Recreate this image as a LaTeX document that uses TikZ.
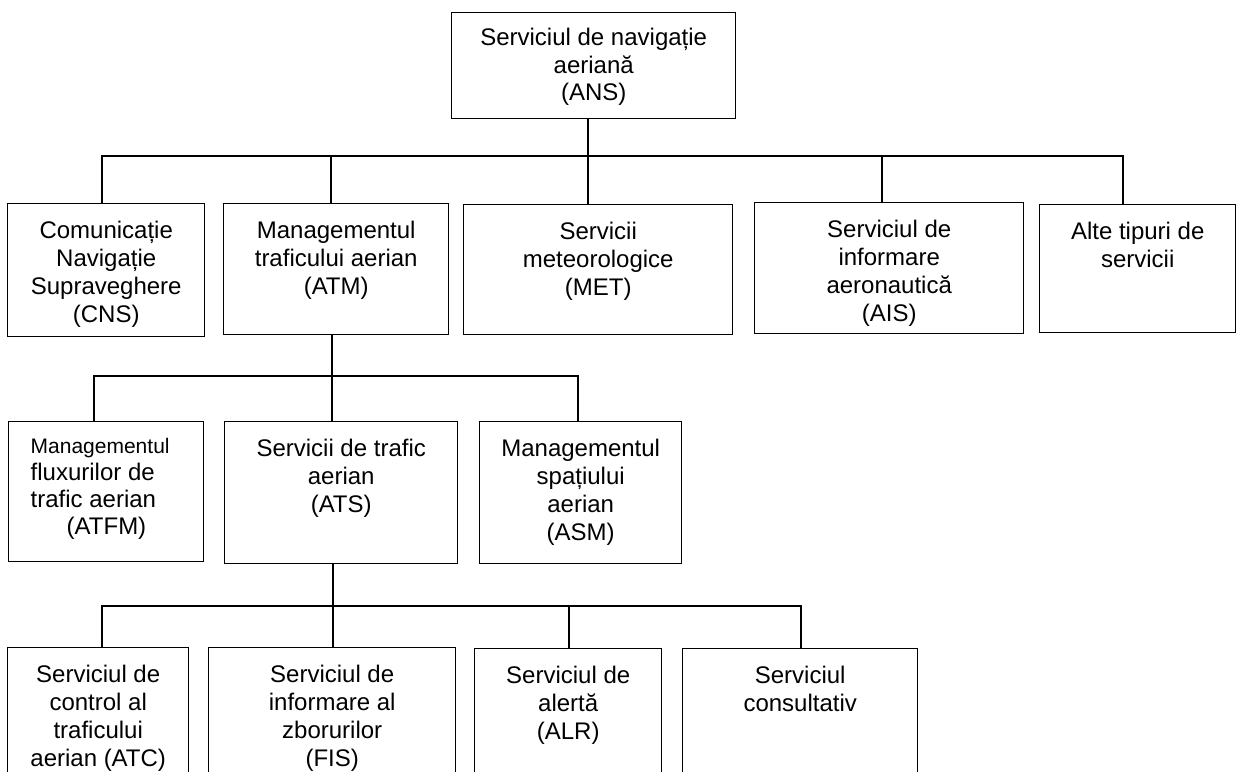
\documentclass[tikz,border=0pt]{standalone}
\usepackage{fontspec}
\setmainfont{Liberation Sans}
\begin{document}
\begin{tikzpicture}[x=1pt, y=-1pt, line width=1.4pt,
    every node/.style={font=\fontsize{24}{28}\selectfont},
    box/.style={draw, rectangle, anchor=north west, inner sep=0pt},
    txt/.style={anchor=north, align=center, inner sep=0pt, yshift=-17pt}]
    \useasboundingbox (0,0) rectangle (1238,771);

    % Top: air navigation service
    \node[box, minimum width=284pt, minimum height=106pt] (ans) at (451,12) {};
    \node[txt, yshift=1.5pt, font=\fontsize{24}{27.7}\selectfont] (ans-t) at (ans.north) {Serviciul de navigație\\aeriană\\(ANS)};

    % Level 1
    \node[box, minimum width=197pt, minimum height=133pt] (cns) at (7,203) {};
    \node[box, minimum width=225pt, minimum height=131pt] (atm) at (223,203) {};
    \node[box, minimum width=269pt, minimum height=130pt] (met) at (463,204) {};
    \node[box, minimum width=269pt, minimum height=131pt] (ais) at (754,202) {};
    \node[box, minimum width=196pt, minimum height=128pt] (alte) at (1039,204) {};
    \node[txt] (cns-t) at (cns.north) {Comunicație\\Navigație\\Supraveghere\\(CNS)};
    \node[txt] (atm-t) at (atm.north) {Managementul\\traficului aerian\\(ATM)};
    \node[txt] (met-t) at (met.north) {Servicii\\meteorologice\\(MET)};
    \node[txt] (ais-t) at (ais.north) {Serviciul de\\informare\\aeronautică\\(AIS)};
    \node[txt] (alte-t) at (alte.north) {Alte tipuri de\\servicii};

    % Level 2: under ATM
    \node[box, minimum width=195pt, minimum height=140pt] (atfm) at (8,421) {};
    \node[box, minimum width=233pt, minimum height=142pt] (ats) at (224,421) {};
    \node[box, minimum width=202pt, minimum height=142pt] (asm) at (479,421) {};
    \node[anchor=north west, align=left, inner sep=0pt, xshift=22pt, yshift=-16.5pt,
          font=\fontsize{24}{27}\selectfont] (atfm-t) at (atfm.north west)
          {{\fontsize{21}{27}\selectfont Managementul}\\fluxurilor de\\trafic aerian\\\hspace*{36pt}(ATFM)};
    \node[txt] (ats-t) at (ats.north) {Servicii de trafic\\aerian\\(ATS)};
    \node[txt] (asm-t) at (asm.north) {Managementul\\spațiului\\aerian\\(ASM)};

    % Level 3: under ATS (boxes run off the bottom edge)
    \node[box, minimum width=181pt, minimum height=150pt] (atc) at (7,647) {};
    \node[box, minimum width=247pt, minimum height=150pt] (fis) at (208,647) {};
    \node[box, minimum width=187pt, minimum height=150pt] (alr) at (474,648) {};
    \node[box, minimum width=235pt, minimum height=150pt] (cons) at (682,648) {};
    \node[txt] (atc-t) at (atc.north) {Serviciul de\\control al\\traficului\\aerian (ATC)};
    \node[txt] (fis-t) at (fis.north) {Serviciul de\\informare al\\zborurilor\\(FIS)};
    \node[txt] (alr-t) at (alr.north) {Serviciul de\\alertă\\(ALR)};
    \node[txt] (cons-t) at (cons.north) {Serviciul\\consultativ};

    % Bus junctions
    \coordinate (j-cns) at (102,156);
    \coordinate (j-atm) at (331,156);
    \coordinate (j-met) at (588,156);
    \coordinate (j-ais) at (882,156);
    \coordinate (j-alte) at (1123,156);
    \coordinate (j-atfm) at (94,376);
    \coordinate (j-ats) at (332,376);
    \coordinate (j-asm) at (578,376);
    \coordinate (j-atc) at (102,606);
    \coordinate (j-fis) at (333,606);
    \coordinate (j-alr) at (569,606);
    \coordinate (j-cons) at (801,606);

    % Connectors
    \draw (ans.south -| j-met) -- (j-met |- met.north);
    \draw (j-cns |- cns.north) -- (j-cns) -- (j-alte) -- (j-alte |- alte.north);
    \foreach \n in {atm, ais}
        \draw (j-\n) -- (j-\n |- \n.north);

    \draw (atm.south -| j-ats) -- (j-ats |- ats.north);
    \draw (j-atfm |- atfm.north) -- (j-atfm) -- (j-asm) -- (j-asm |- asm.north);

    \draw (ats.south -| j-fis) -- (j-fis |- fis.north);
    \draw (j-atc |- atc.north) -- (j-atc) -- (j-cons) -- (j-cons |- cons.north);
    \draw (j-alr) -- (j-alr |- alr.north);
\end{tikzpicture}
\end{document}
